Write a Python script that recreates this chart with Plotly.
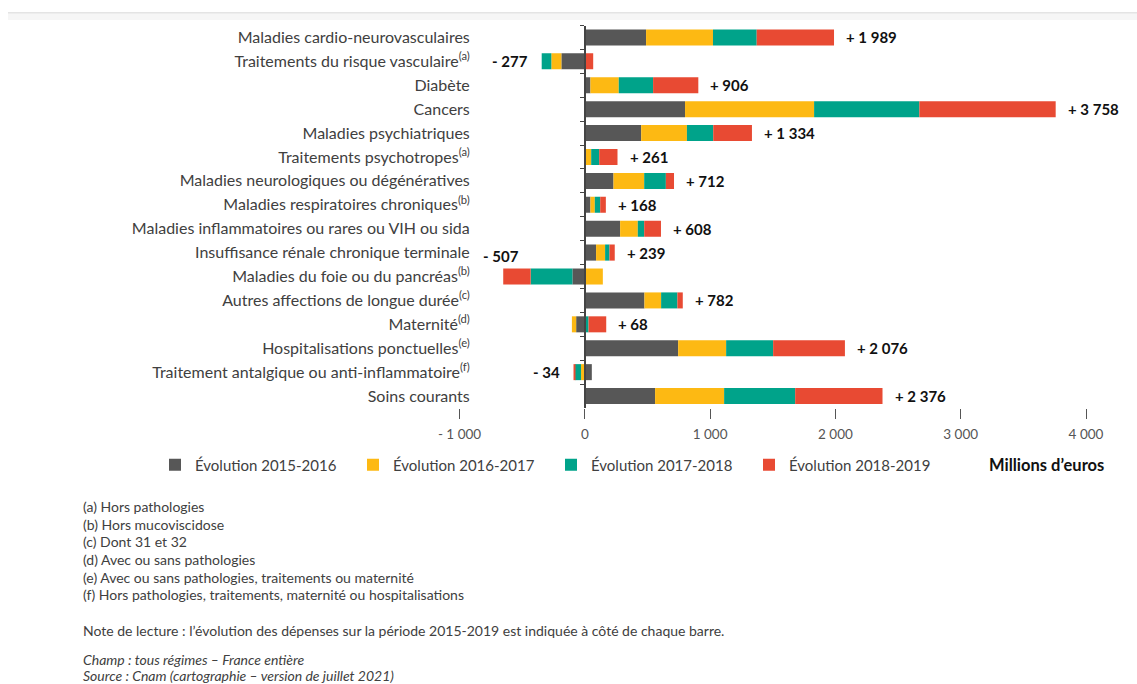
import plotly.graph_objects as go

categories = [
    "Maladies cardio-neurovasculaires",
    "Traitements du risque vasculaire<sup>(a)</sup>",
    "Diabète",
    "Cancers",
    "Maladies psychiatriques",
    "Traitements psychotropes<sup>(a)</sup>",
    "Maladies neurologiques ou dégénératives",
    "Maladies respiratoires chroniques<sup>(b)</sup>",
    "Maladies inflammatoires ou rares ou VIH ou sida",
    "Insuffisance rénale chronique terminale",
    "Maladies du foie ou du pancréas<sup>(b)</sup>",
    "Autres affections de longue durée<sup>(c)</sup>",
    "Maternité<sup>(d)</sup>",
    "Hospitalisations ponctuelles<sup>(e)</sup>",
    "Traitement antalgique ou anti-inflammatoire<sup>(f)</sup>",
    "Soins courants",
]

series_names = ["Évolution 2015-2016", "Évolution 2016-2017", "Évolution 2017-2018", "Évolution 2018-2019"]

evol_2015_2016 = [489, -187, 45, 800, 450, 1, 229, 45, 282, 90, -99, 476, -69, 745, 56, 561]
evol_2016_2017 = [534, -80, 226, 1030, 365, 50, 245, 35, 141, 72, 144, 133, -34, 383, -30, 551]
evol_2017_2018 = [349, -77, 274, 840, 210, 64, 173, 43, 51, 35, -333, 130, 30, 375, -48, 567]
evol_2018_2019 = [617, 67, 361, 1088, 309, 146, 65, 45, 134, 42, -219, 43, 141, 573, -12, 697]

totals = [1989, -277, 906, 3758, 1334, 261, 712, 168, 608, 239, -507, 782, 68, 2076, -34, 2376]

x_tick_vals = [-1000, 0, 1000, 2000, 3000, 4000]
x_tick_text = ["- 1 000", "0", "1 000", "2 000", "3 000", "4 000"]

footnotes = [
    "(a) Hors pathologies",
    "(b) Hors mucoviscidose",
    "(c) Dont 31 et 32",
    "(d) Avec ou sans pathologies",
    "(e) Avec ou sans pathologies, traitements ou maternité",
    "(f) Hors pathologies, traitements, maternité ou hospitalisations",
]
note_text = "Note de lecture : l’évolution des dépenses sur la période 2015-2019 est indiquée à côté de chaque barre."
champ_text = "Champ : tous régimes – France entière"
source_text = "Source : Cnam (cartographie – version de juillet 2021)"
unit_text = "Millions d’euros"

colors = ["#575757", "#FDB913", "#00A38A", "#E84A33"]

W, H = 1137, 684
FONT = "Lato"
TXT = "#404040"

def px_x(p):
    return p / W

def px_y(p):
    return 1 - p / H

x_range = [-1000, 4000]
x_dom = [px_x(459.5), px_x(1086)]
y_dom = [px_y(408), px_y(25.5)]
zero_pos = x_dom[0] + (0 - x_range[0]) / (x_range[1] - x_range[0]) * (x_dom[1] - x_dom[0])
n = len(categories)

fig = go.Figure()
all_series = [evol_2015_2016, evol_2016_2017, evol_2017_2018, evol_2018_2019]
for name, vals, col in zip(series_names, all_series, colors):
    fig.add_trace(go.Bar(
        y=categories, x=vals, name=name, orientation="h",
        marker=dict(color=col, line=dict(width=0)),
        hoverinfo="skip",
    ))

# invisible helper trace for the zero-positioned axis line
fig.add_trace(go.Scatter(y=categories, x=[0] * n, yaxis="y2",
                         mode="markers", marker=dict(opacity=0, size=1), showlegend=False,
                         hoverinfo="skip"))

def fmt_total(v):
    s = f"{abs(v):,}".replace(",", " ")
    return ("+ " if v >= 0 else "- ") + s

label_offsets = {10: (30, 21)}

annotations = []
for i, (cat, tot) in enumerate(zip(categories, totals)):
    pos = sum(s[i] for s in all_series if s[i] > 0)
    neg = sum(s[i] for s in all_series if s[i] < 0)
    dx, dy = label_offsets.get(i, (0, 0))
    if tot >= 0:
        annotations.append(dict(x=pos, y=cat, xref="x", yref="y", text=f"<b>{fmt_total(tot)}</b>",
                                showarrow=False, xanchor="left", xshift=10 + dx, yshift=dy,
                                font=dict(family=FONT, size=15, color="#111")))
    else:
        annotations.append(dict(x=neg, y=cat, xref="x", yref="y", text=f"<b>{fmt_total(tot)}</b>",
                                showarrow=False, xanchor="right", xshift=-12 + dx, yshift=dy,
                                font=dict(family=FONT, size=15, color="#111")))

annotations.append(dict(x=px_x(1106), y=px_y(465), xref="paper", yref="paper", text=f"<b>{unit_text}</b>",
                        showarrow=False, xanchor="right", yanchor="middle",
                        font=dict(family=FONT, size=16.5, color="#111")))

foot_y = [506, 524, 541, 559, 577, 594]
for t, yy in zip(footnotes, foot_y):
    annotations.append(dict(x=px_x(81), y=px_y(yy), xref="paper", yref="paper", text=t,
                            showarrow=False, xanchor="left", yanchor="middle",
                            font=dict(family=FONT, size=14, color=TXT)))
annotations.append(dict(x=px_x(81), y=px_y(630), xref="paper", yref="paper", text=note_text,
                        showarrow=False, xanchor="left", yanchor="middle",
                        font=dict(family=FONT, size=14, color=TXT)))
annotations.append(dict(x=px_x(81), y=px_y(659), xref="paper", yref="paper", text=f"<i>{champ_text}</i>",
                        showarrow=False, xanchor="left", yanchor="middle",
                        font=dict(family=FONT, size=14, color=TXT)))
annotations.append(dict(x=px_x(81), y=px_y(675), xref="paper", yref="paper", text=f"<i>{source_text}</i>",
                        showarrow=False, xanchor="left", yanchor="middle",
                        font=dict(family=FONT, size=14, color=TXT)))

shapes = [
    dict(type="rect", xref="paper", yref="paper", x0=px_x(8), x1=1, y0=px_y(20), y1=px_y(12.5),
         fillcolor="#f6f6f6", line=dict(width=0), layer="below"),
    dict(type="line", xref="paper", yref="paper", x0=px_x(8), x1=1, y0=px_y(12.7), y1=px_y(12.7),
         line=dict(color="#e4e4e4", width=1.5)),
]

fig.update_layout(
    width=W, height=H,
    margin=dict(l=0, r=0, t=0, b=0, pad=0, autoexpand=False),
    paper_bgcolor="white", plot_bgcolor="white",
    barmode="relative", bargap=0.33,
    font=dict(family=FONT, color=TXT),
    showlegend=True,
    legend=dict(orientation="h", x=px_x(155), y=px_y(465), xanchor="left", yanchor="middle",
                font=dict(family=FONT, size=15, color=TXT), entrywidth=153, entrywidthmode="pixels",
                traceorder="normal", itemclick=False, bgcolor="rgba(0,0,0,0)"),
    xaxis=dict(domain=x_dom, range=x_range, tickvals=x_tick_vals, ticktext=x_tick_text,
               showgrid=False, zeroline=False, showline=False, ticks="outside", ticklen=10,
               tickcolor="#555", tickwidth=1, anchor="y", automargin=False, ticklabelstandoff=4,
               tickfont=dict(family=FONT, size=13.5, color="#555")),
    yaxis=dict(domain=y_dom, categoryorder="array", categoryarray=categories, range=[n - 0.5, -0.5],
               autorange=False, showgrid=False, zeroline=False, showline=False, showticklabels=True,
               ticks="", anchor="free", position=zero_pos, ticklabelstandoff=115, automargin=False,
               tickfont=dict(family=FONT, size=16, color=TXT)),
    yaxis2=dict(overlaying="y", matches="y", anchor="free", position=zero_pos, side="left",
                showline=True, linecolor="#444", linewidth=1.5, ticks="outside", tickson="boundaries",
                ticklen=4, tickcolor="#444", showticklabels=False, showgrid=False, zeroline=False,
                automargin=False),
    annotations=annotations,
    shapes=shapes,
)

fig.write_html("out.html")
